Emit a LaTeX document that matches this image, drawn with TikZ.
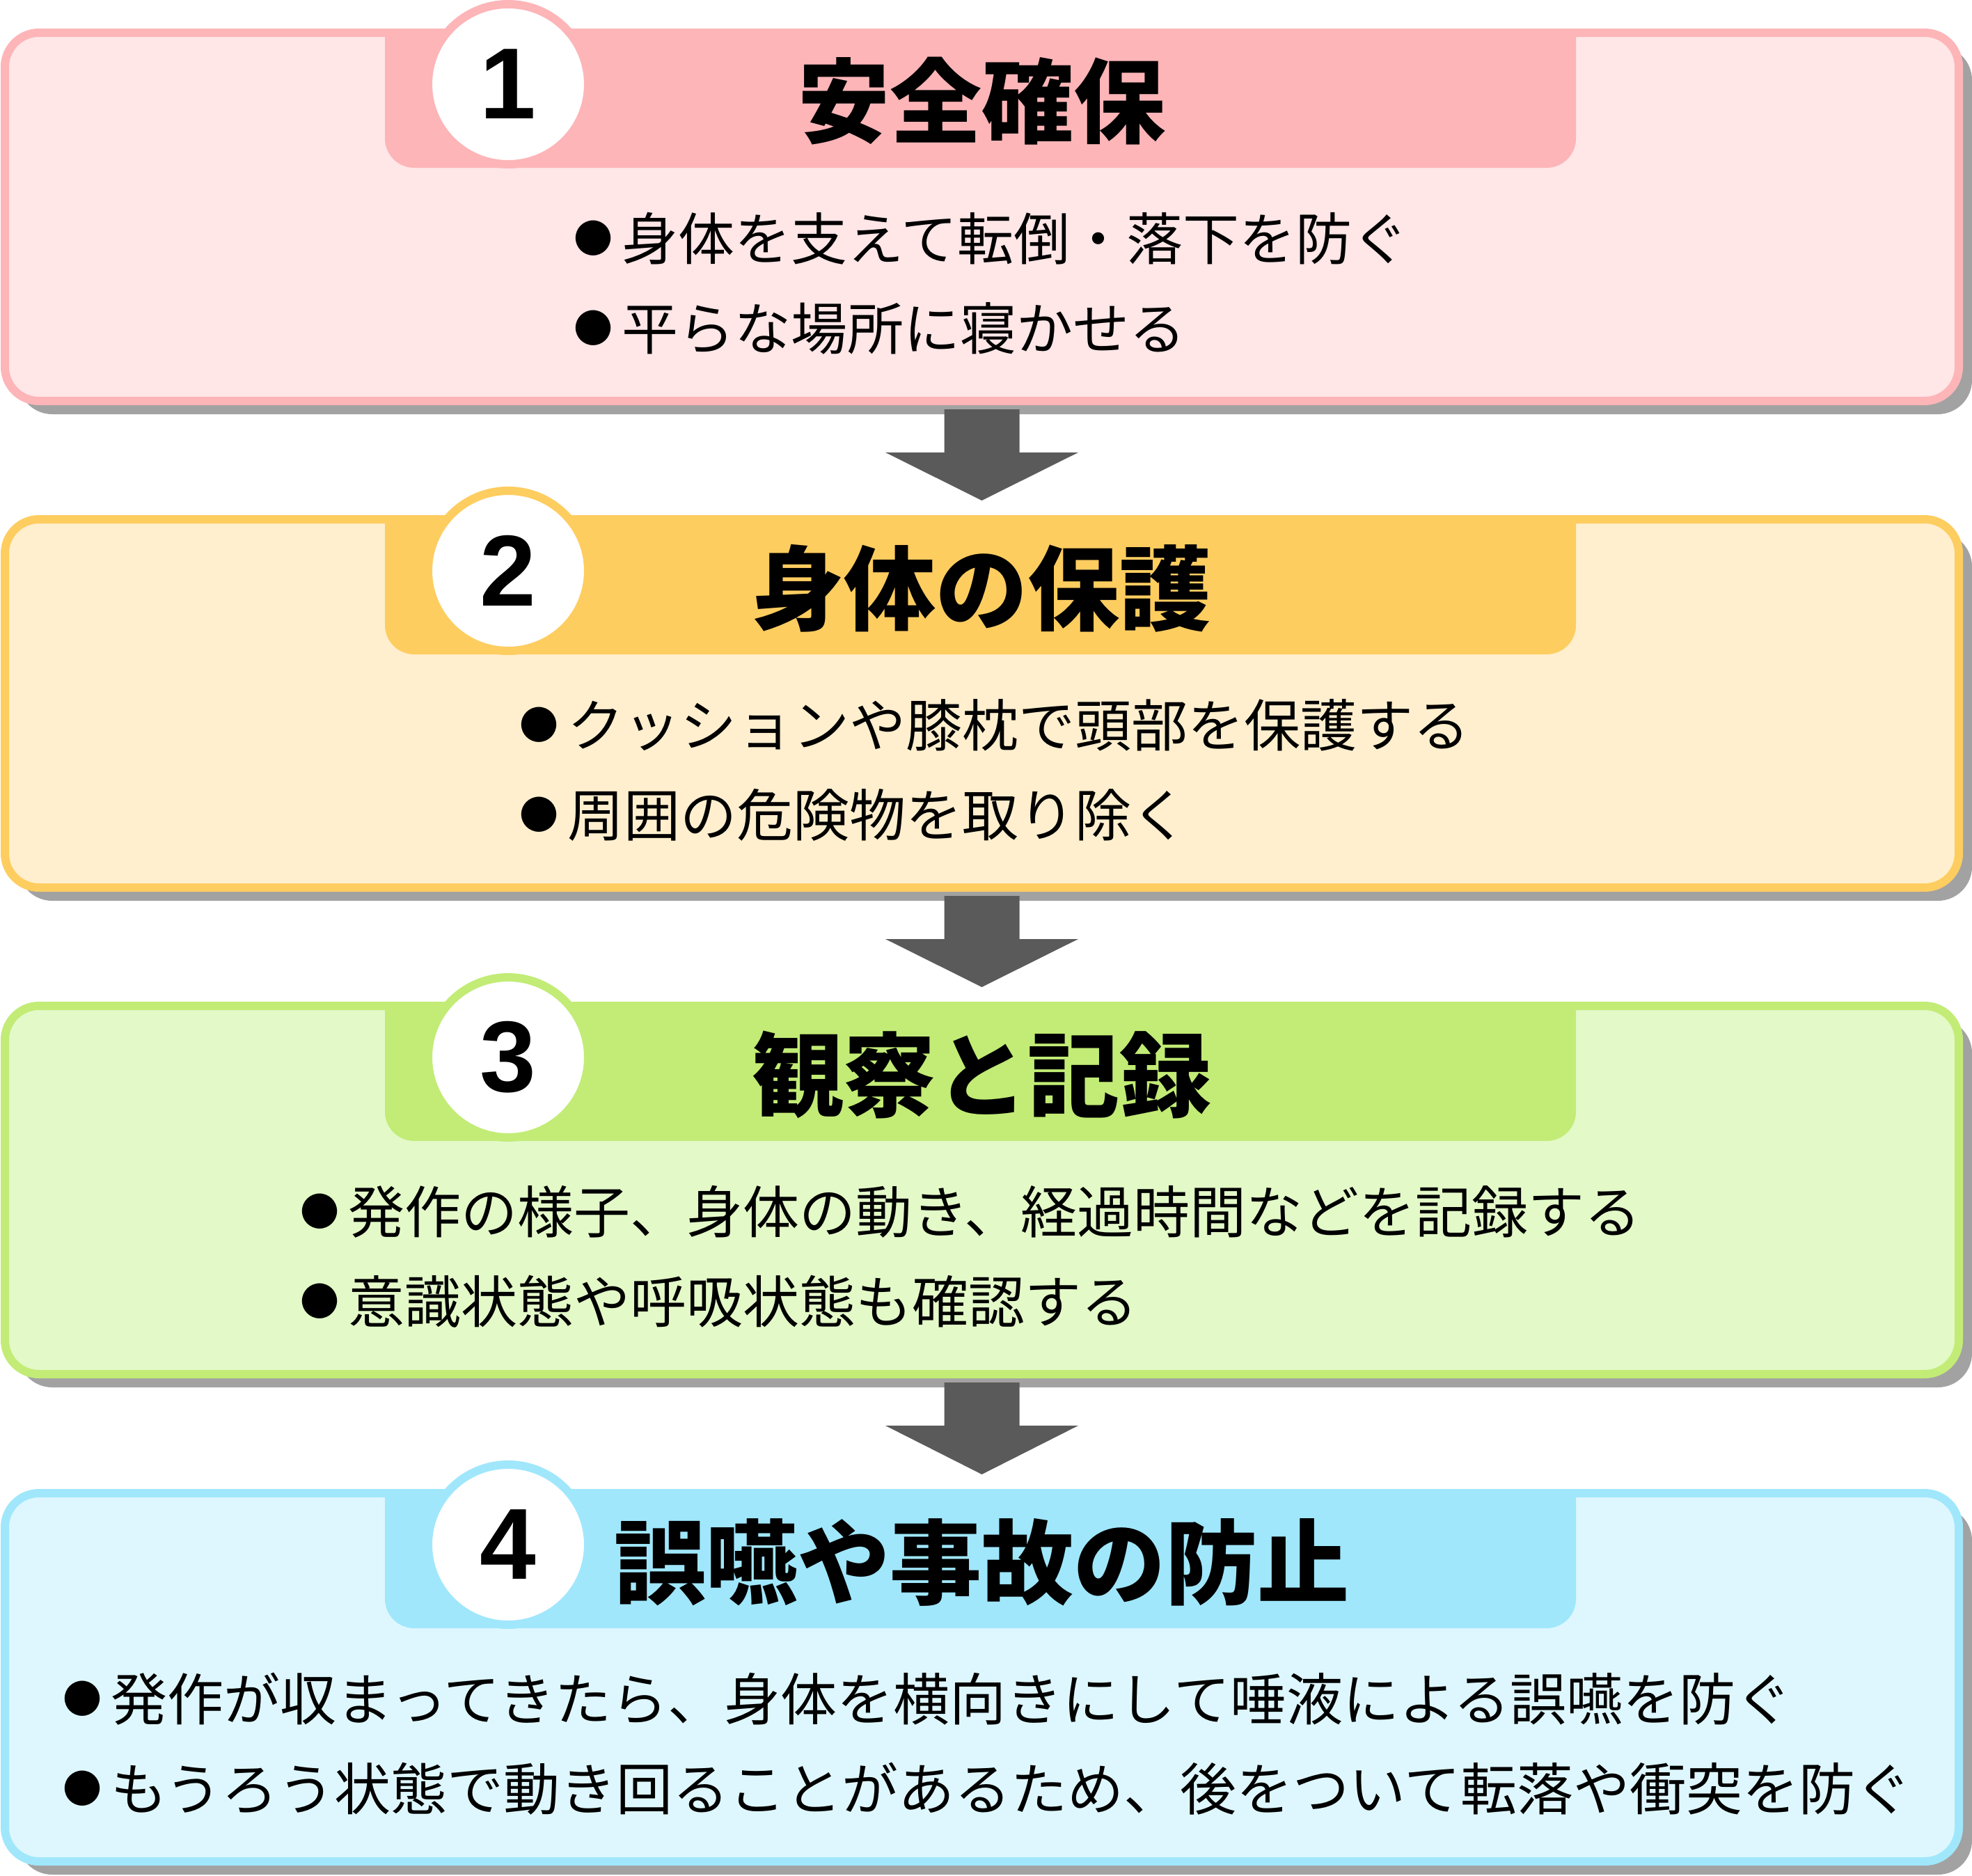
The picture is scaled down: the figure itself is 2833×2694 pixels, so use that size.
\documentclass[tikz,border=0pt]{standalone}
\usepackage{fontspec}
\newfontfamily\jp{Noto Sans CJK JP}
\newfontfamily\digitfont{Liberation Sans}
\usetikzlibrary{shadows,calc}
\definecolor{pinkD}{HTML}{FDB5B8}
\definecolor{pinkL}{HTML}{FFE6E7}
\definecolor{yelD}{HTML}{FECD60}
\definecolor{yelL}{HTML}{FFEFCE}
\definecolor{grnD}{HTML}{C2EC76}
\definecolor{grnL}{HTML}{E3F9C8}
\definecolor{bluD}{HTML}{A0E7FC}
\definecolor{bluL}{HTML}{DEF7FE}
\definecolor{arrowc}{HTML}{5A5A5A}
\definecolor{shadowc}{HTML}{A2A2A2}
\newcommand\blt{\makebox[81pt]{\raisebox{9.5pt}{\fontsize{56}{56}\selectfont ●}}}
\begin{document}
\begin{tikzpicture}[x=1pt,y=-1pt,
  stepbox/.style={rectangle, rounded corners=49pt, line width=12pt,
    minimum width=2807pt, minimum height=529pt, inner sep=0pt,
    drop shadow={shadow xshift=19pt, shadow yshift=-19pt, fill=shadowc, opacity=1}},
  numcirc/.style={circle, fill=white, line width=12pt, minimum size=230pt,
    inner sep=0pt, font=\digitfont\bfseries\fontsize{145}{145}\selectfont},
  titletext/.style={font=\jp\bfseries\fontsize{132}{132}\selectfont, inner sep=0pt},
  bodytext/.style={font=\jp\fontsize{81}{129}\selectfont, align=left,
    anchor=west, inner sep=0pt},
  flowarrow/.style={fill=arrowc}]
\useasboundingbox (0,0) rectangle (2833,2694);

% ---- Box 1
\node[stepbox, draw=pinkD, fill=pinkL] (box1) at (1410.5,311.5) {};
\fill[pinkD] (553,47) [rounded corners=42pt] -- (553,241) -- (2264,241) [sharp corners] -- (2264,47) -- cycle;
\node[numcirc, draw=pinkD] (num1) at (730,121) {1};
\node[titletext] (title1) at (1410,145) {安全確保};
\node[bodytext] (text1) at (812,407) {\blt 身体を支えて転倒・落下を防ぐ\\\blt 平らな場所に寝かせる};

% ---- Box 2
\node[stepbox, draw=yelD, fill=yelL] (box2) at (1410.5,1010.5) {};
\fill[yelD] (553,746) [rounded corners=42pt] -- (553,940) -- (2264,940) [sharp corners] -- (2264,746) -- cycle;
\node[numcirc, draw=yelD] (num2) at (730,820) {2};
\node[titletext] (title2) at (1410,845) {身体の保護};
\node[bodytext] (text2) at (734,1106) {\blt クッションや膝枕で頭部を保護する\\\blt 周囲の危険物を取り除く};

% ---- Box 3
\node[stepbox, draw=grnD, fill=grnL] (box3) at (1410.5,1709.5) {};
\fill[grnD] (553,1445) [rounded corners=42pt] -- (553,1639) -- (2264,1639) [sharp corners] -- (2264,1445) -- cycle;
\node[numcirc, draw=grnD] (num3) at (730,1519) {3};
\node[titletext] (title3) at (1410,1544) {観察と記録};
\node[bodytext] (text3) at (419,1805) {\blt 発作の様子、身体の動き、経過時間などを記録する\\\blt 意識状態や呼吸状態も確認する};

% ---- Box 4
\node[stepbox, draw=bluD, fill=bluL] (box4) at (1410.5,2409.5) {};
\fill[bluD] (553,2145) [rounded corners=42pt] -- (553,2339) -- (2264,2339) [sharp corners] -- (2264,2145) -- cycle;
\node[numcirc, draw=bluD] (num4) at (730,2219) {4};
\node[titletext] (title4) at (1410,2244) {誤嚥や事故の防止};
\node[bodytext] (text4) at (78,2505) {\blt 発作が収まってきたら、身体を横向きにして唾液による誤嚥を防ぐ\\\blt もうろう状態で動き回ることがあるため、後をついて転落や衝突を防ぐ};

% ---- Arrows
\foreach \a/\b in {box1/box2, box2/box3, box3/box4}{
  \fill[flowarrow] ($(\a.south)+(-54,6)$) -- ($(\a.south)+(54,6)$)
    -- ($(\a.south)+(54,68)$) -- ($(\a.south)+(138.5,68)$)
    -- ($(\b.north)+(0,-21)$)
    -- ($(\a.south)+(-138.5,68)$) -- ($(\a.south)+(-54,68)$) -- cycle;
}
\end{tikzpicture}
\end{document}
